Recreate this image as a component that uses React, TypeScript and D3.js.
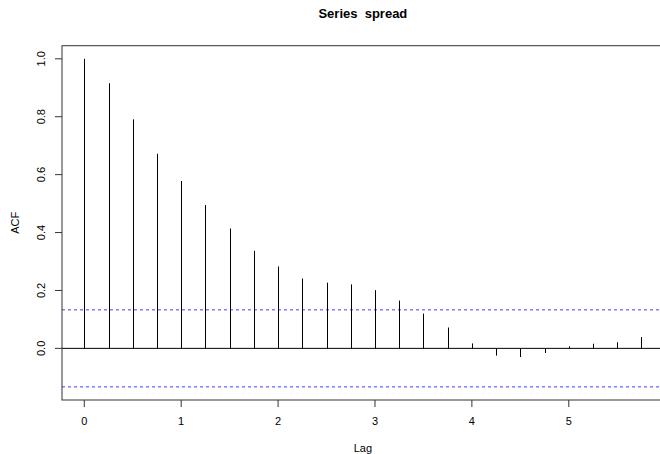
import React, { useEffect, useRef } from 'react';
import * as d3 from 'd3';

// ACF of "spread", lags in years (frequency 4)
const lags = [0, 0.25, 0.5, 0.75, 1, 1.25, 1.5, 1.75, 2, 2.25, 2.5, 2.75, 3, 3.25, 3.5, 3.75, 4, 4.25, 4.5, 4.75, 5, 5.25, 5.5, 5.75];
const acfValues = [1.0, 0.916, 0.791, 0.672, 0.578, 0.495, 0.414, 0.337, 0.283, 0.241, 0.227, 0.221, 0.201, 0.165, 0.12, 0.072, 0.017, -0.025, -0.03, -0.016, 0.007, 0.016, 0.021, 0.039];
const ciBound = 0.133;
const xTicks = [0, 1, 2, 3, 4, 5];
const yTicks = [0, 0.2, 0.4, 0.6, 0.8, 1.0];

const W = 660, H = 454;
const left = 62, top = 45.7, bottom = 400;

export default function App() {
  const ref = useRef<SVGSVGElement>(null);

  useEffect(() => {
    const svg = d3.select(ref.current);
    svg.selectAll('*').remove();
    const font = 'Liberation Sans, Arial, Helvetica, sans-serif';

    // R style 4% axis expansion
    const xmin = d3.min(lags)!, xmax = d3.max(lags)!;
    const xpad = (xmax - xmin) * 0.04;
    const ymin = Math.min(d3.min(acfValues)!, -ciBound), ymax = Math.max(d3.max(acfValues)!, ciBound);
    const ypad = (ymax - ymin) * 0.04;
    const unit = 96.9;
    const x = d3.scaleLinear().domain([xmin - xpad, xmax + xpad]).range([left, left + unit * (xmax - xmin + 2 * xpad)]);
    const y = d3.scaleLinear().domain([ymin - ypad, ymax + ypad]).range([bottom, top]);
    const right = x.range()[1];

    // zero line
    svg.append('line')
      .attr('x1', left).attr('x2', right)
      .attr('y1', y(0)).attr('y2', y(0))
      .attr('stroke', '#000').attr('stroke-width', 1);

    // confidence bounds
    [ciBound, -ciBound].forEach(c => {
      svg.append('line')
        .attr('x1', left).attr('x2', right)
        .attr('y1', y(c)).attr('y2', y(c))
        .attr('stroke', '#4040ff').attr('stroke-width', 1)
        .attr('stroke-dasharray', '3,3');
    });

    // spikes
    svg.selectAll('line.spike')
      .data(lags)
      .enter()
      .append('line')
      .attr('class', 'spike')
      .attr('x1', d => Math.round(x(d)) + 0.5).attr('x2', d => Math.round(x(d)) + 0.5)
      .attr('y1', y(0))
      .attr('y2', (d, i) => y(acfValues[i]))
      .attr('stroke', '#000').attr('stroke-width', 1);

    // box
    svg.append('rect')
      .attr('x', left).attr('y', top)
      .attr('width', right - left).attr('height', bottom - top)
      .attr('fill', 'none').attr('stroke', '#333').attr('stroke-width', 1);

    // x axis
    const gx = svg.append('g');
    xTicks.forEach(t => {
      gx.append('line')
        .attr('x1', x(t)).attr('x2', x(t))
        .attr('y1', bottom).attr('y2', bottom + 7)
        .attr('stroke', '#333');
      gx.append('text')
        .attr('x', x(t)).attr('y', 425)
        .attr('text-anchor', 'middle')
        .attr('font-family', font).attr('font-size', 11)
        .text(t);
    });
    svg.append('text')
      .attr('x', (left + right) / 2).attr('y', 452)
      .attr('text-anchor', 'middle')
      .attr('font-family', font).attr('font-size', 11)
      .text('Lag');

    // y axis
    const gy = svg.append('g');
    yTicks.forEach(t => {
      gy.append('line')
        .attr('x1', left - 7).attr('x2', left)
        .attr('y1', y(t)).attr('y2', y(t))
        .attr('stroke', '#333');
      gy.append('text')
        .attr('transform', `translate(45,${y(t)}) rotate(-90)`)
        .attr('text-anchor', 'middle')
        .attr('font-family', font).attr('font-size', 11)
        .text(t.toFixed(1));
    });
    svg.append('text')
      .attr('transform', `translate(19,${(top + bottom) / 2}) rotate(-90)`)
      .attr('text-anchor', 'middle')
      .attr('font-family', font).attr('font-size', 11)
      .text('ACF');

    // title
    svg.append('text')
      .attr('x', (left + right) / 2).attr('y', 18)
      .attr('text-anchor', 'middle')
      .attr('font-family', font).attr('font-size', 13).attr('font-weight', 'bold')
      .attr('xml:space', 'preserve')
      .text('Series  spread');
  }, []);

  return (
    <svg ref={ref} width={W} height={H}
      style={{ position: 'absolute', left: 0, top: 0, background: '#fff' }} />
  );
}
